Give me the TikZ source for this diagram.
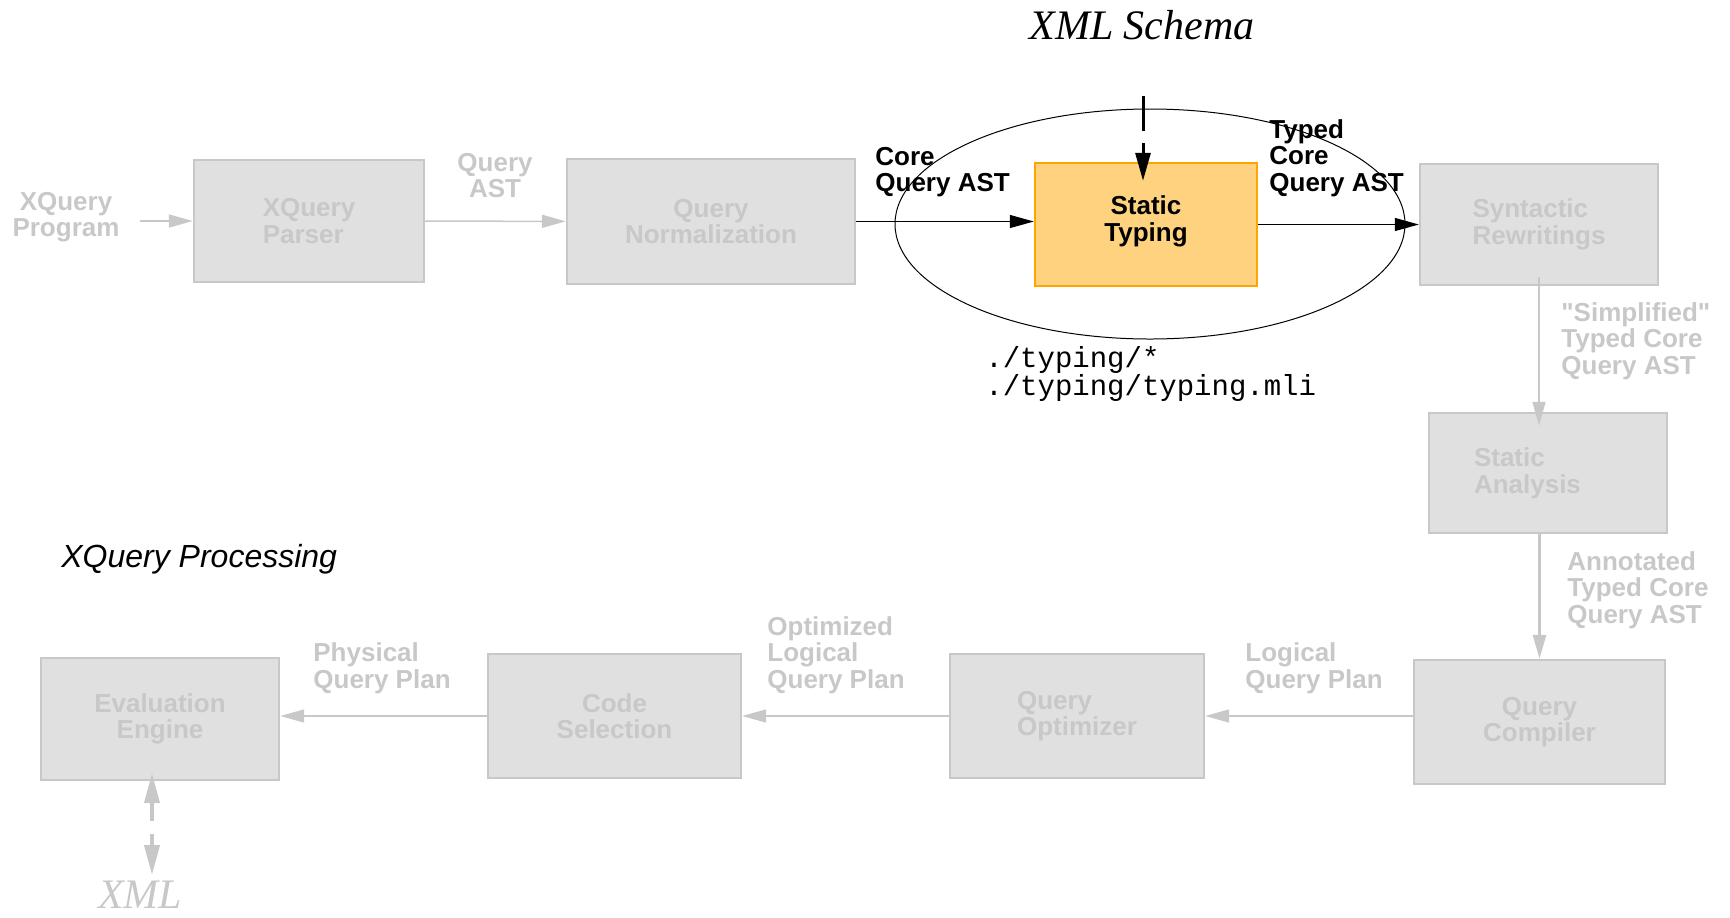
\documentclass[tikz,border=0pt]{standalone}
\usepackage{fontspec}
\setmainfont{Liberation Sans}
\setsansfont{Liberation Sans}
\setmonofont{Liberation Mono}
\newfontfamily\schemafont{Liberation Serif}
\usetikzlibrary{arrows.meta,positioning}

\definecolor{boxgray}{RGB}{224,224,224}
\definecolor{linegray}{RGB}{200,200,200}
\definecolor{typefill}{RGB}{255,210,128}
\definecolor{typeline}{RGB}{255,165,0}

\begin{document}
\begin{tikzpicture}[x=0.5pt, y=-0.5pt,
  font=\fontsize{13}{13.3}\selectfont\sffamily\bfseries,
  block/.style={draw=linegray, fill=boxgray, line width=1.2pt, text=linegray, align=left, minimum width=119pt, minimum height=61pt},
  hot/.style={draw=typeline, fill=typefill, line width=1.2pt, align=center, text depth=6pt, minimum width=111pt, minimum height=61.5pt},
  lbl/.style={align=left, anchor=west, inner sep=0pt},
  glbl/.style={lbl, text=linegray},
  flow/.style={draw=black, line width=0.6pt, -{Triangle[length=12pt, width=6.5pt]}},
  gflow/.style={flow, draw=linegray, line width=0.75pt}]

  \useasboundingbox (0,0) rectangle (1730,917);

  % Static typing region
  \draw[line width=0.5pt] (1150,224) ellipse [x radius=255, y radius=115];

  % Top row
  \node[block, minimum width=115pt] (parser) at (309,221) {XQuery\\Parser};
  \node[block, minimum width=144pt, minimum height=62.5pt, align=center] (norm) at (711,221.5) {Query\\Normalization};
  \node[hot] (typing) at (1146,224.5) {Static\\Typing};
  \node[block, minimum height=60.5pt] (rewrite) at (1539,224.5) {Syntactic\\Rewritings};

  % Right column
  \node[block, minimum height=60pt, text width=74pt, inner xsep=22.5pt] (analysis) at (1548,473) {Static\\Analysis};
  \node[block, minimum width=125.5pt, minimum height=62pt, align=center] (compiler) at (1539.5,722) {Query\\Compiler};

  % Bottom row
  \node[block, minimum width=127pt, minimum height=62pt] (optimizer) at (1077,716) {Query\\Optimizer};
  \node[block, minimum width=126.5pt, minimum height=62pt, align=center] (codesel) at (614.5,716) {Code\\Selection};
  \node[block, align=center] (engine) at (160,719) {Evaluation\\Engine};

  % Labels
  \node[glbl, align=center, anchor=center] (prog) at (66,217) {XQuery\\Program};
  \node[glbl, align=center, anchor=center] (ast) at (495,175.5) {Query\\AST};
  \node[lbl] (coreast) at (875,172) {Core\\Query AST};
  \node[lbl] (typedast) at (1269,158) {Typed\\Core\\Query AST};
  \node[lbl, font=\fontsize{14.5}{14}\selectfont\ttfamily] (src) at (985,374) {./typing/*\\./typing/typing.mli};
  \node[glbl] (simpl) at (1561,341) {\textquotedbl Simplified\textquotedbl\\Typed Core\\Query AST};
  \node[glbl] (annot) at (1567,590) {Annotated\\Typed Core\\Query AST};
  \node[glbl] (logplan) at (1245,668) {Logical\\Query Plan};
  \node[glbl] (optplan) at (767,655) {Optimized\\Logical\\Query Plan};
  \node[glbl] (physplan) at (313,668) {Physical\\Query Plan};
  \node[lbl, font=\fontsize{16}{16}\selectfont\sffamily\itshape] (title) at (61,559) {XQuery Processing};
  \node[inner sep=0pt, font=\fontsize{21}{21}\selectfont\schemafont\itshape] (schema) at (1142,25) {XML Schema};
  \node[inner sep=0pt, text=linegray, font=\fontsize{21}{21}\selectfont\schemafont\itshape] (xml) at (140,895) {XML};

  \coordinate (schemain) at (1143,96);
  \coordinate (xmlio) at (152,875);

  % Arrows
  \draw[gflow, shorten <=10pt] (prog.east |- parser.west) -- (parser.west);
  \draw[gflow] (parser) -- (norm);
  \draw[flow] (norm.east) -- (norm.east -| typing.west);
  \draw[flow] (typing) -- (rewrite);
  \draw[flow, line width=1.5pt, dash pattern=on 17.5pt off 6pt, -{Triangle[length=14pt, width=7.5pt]}, shorten >=-9.5pt] (schemain) -- (schemain |- typing.north);
  \draw[gflow, shorten <=-4.5pt, shorten >=-7pt] (rewrite.south) -- (rewrite.south |- analysis.north);
  \draw[gflow, line width=1.5pt] (compiler.north |- analysis.south) -- (compiler.north);
  \draw[gflow] (compiler.west |- optimizer.east) -- (optimizer.east);
  \draw[gflow] (optimizer) -- (codesel);
  \draw[gflow] (codesel.west) -- (codesel.west -| engine.east);
  \draw[gflow, line width=2pt, dash pattern=on 9.5pt off 6.5pt, {Triangle[length=15pt, width=7.5pt]}-{Triangle[length=15pt, width=7.5pt]}, shorten <=-4pt] (xmlio |- engine.south) -- (xmlio);

\end{tikzpicture}
\end{document}
